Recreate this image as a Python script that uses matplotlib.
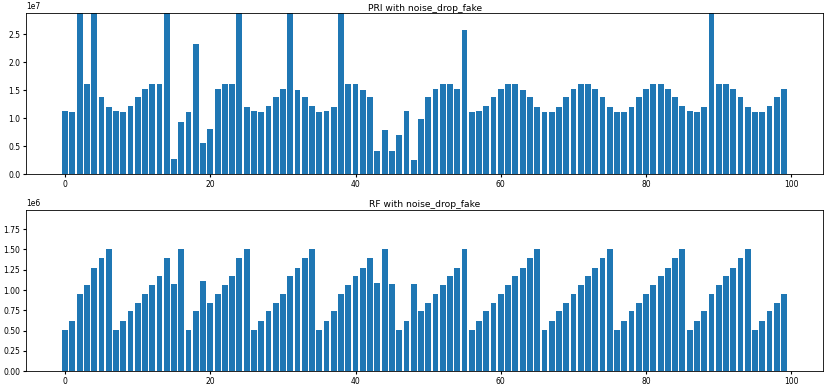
import numpy as np
import matplotlib
matplotlib.use("Agg")
import matplotlib.pyplot as plt
from matplotlib.ticker import MultipleLocator

# PRI values in units of 1e7; spikes run off the top of the axis
SPIKE = 4.0
pri = [1.13, 1.12, SPIKE, 1.62, SPIKE, 1.38, 1.21, 1.13, 1.12, 1.22,
       1.38, 1.52, 1.62, 1.62, SPIKE, 0.28, 0.94, 1.12, 2.33, 0.56,
       0.81, 1.52, 1.62, 1.62, SPIKE, 1.21, 1.13, 1.12, 1.22, 1.38,
       1.52, SPIKE, 1.51, 1.38, 1.22, 1.12, 1.13, 1.21, SPIKE, 1.62,
       1.62, 1.51, 1.38, 0.42, 0.80, 0.42, 0.71, 1.13, 0.25, 0.98,
       1.38, 1.52, 1.62, 1.62, 1.52, 2.58, 1.12, 1.13, 1.22, 1.38,
       1.52, 1.62, 1.62, 1.51, 1.38, 1.21, 1.12, 1.12, 1.21, 1.38,
       1.52, 1.62, 1.62, 1.52, 1.38, 1.21, 1.12, 1.12, 1.21, 1.38,
       1.52, 1.62, 1.62, 1.52, 1.38, 1.22, 1.13, 1.12, 1.21, SPIKE,
       1.62, 1.62, 1.52, 1.38, 1.21, 1.12, 1.12, 1.22, 1.38, 1.52]

# RF values in units of 1e6
rf = [0.506, 0.622, 0.955, 1.058, 1.276, 1.39, 1.507,
      0.506, 0.622, 0.737, 0.84, 0.955, 1.058, 1.173, 1.39, 1.07, 1.507,
      0.506, 0.737, 1.107, 0.84, 0.955, 1.058, 1.173, 1.39, 1.507,
      0.506, 0.622, 0.737, 0.84, 0.955, 1.173, 1.276, 1.39, 1.507,
      0.506, 0.622, 0.737, 0.955, 1.058, 1.173, 1.276, 1.39, 1.09, 1.507, 1.07,
      0.506, 0.622, 1.07, 0.737, 0.84, 0.955, 1.058, 1.173, 1.276, 1.507,
      0.506, 0.622, 0.737, 0.84, 0.955, 1.058, 1.173, 1.276, 1.39, 1.507,
      0.506, 0.622, 0.737, 0.84, 0.955, 1.058, 1.173, 1.276, 1.39, 1.507,
      0.506, 0.622, 0.737, 0.84, 0.955, 1.058, 1.173, 1.276, 1.39, 1.507,
      0.506, 0.622, 0.737, 0.955, 1.058, 1.173, 1.276, 1.39, 1.507,
      0.506, 0.622, 0.737, 0.84, 0.955]

pri = np.array(pri) * 1e7
rf = np.array(rf) * 1e6

plt.rcParams['font.size'] = 5.5
plt.rcParams['xtick.major.size'] = 2
plt.rcParams['ytick.major.size'] = 2
plt.rcParams['axes.linewidth'] = 0.6

fig = plt.figure(figsize=(8.27, 3.85), dpi=100)
ax1 = fig.add_axes([0.0314, 0.547, 0.964, 0.418])
ax2 = fig.add_axes([0.0314, 0.0356, 0.964, 0.419])

ax1.bar(np.arange(len(pri)), pri, color='#1f77b4')
ax1.set_ylim(0, 2.87e7)
ax1.set_title('PRI with noise_drop_fake', pad=2)

ax2.bar(np.arange(len(rf)), rf, color='#1f77b4')
ax2.set_ylim(0, 1.985e6)
ax2.yaxis.set_major_locator(MultipleLocator(0.25e6))
ax2.set_title('RF with noise_drop_fake', pad=2)

for ax in (ax1, ax2):
    ax.tick_params(labelsize=5.5, pad=2)
    ax.yaxis.get_offset_text().set_fontsize(5.5)

fig.savefig('out.png', dpi=100)
